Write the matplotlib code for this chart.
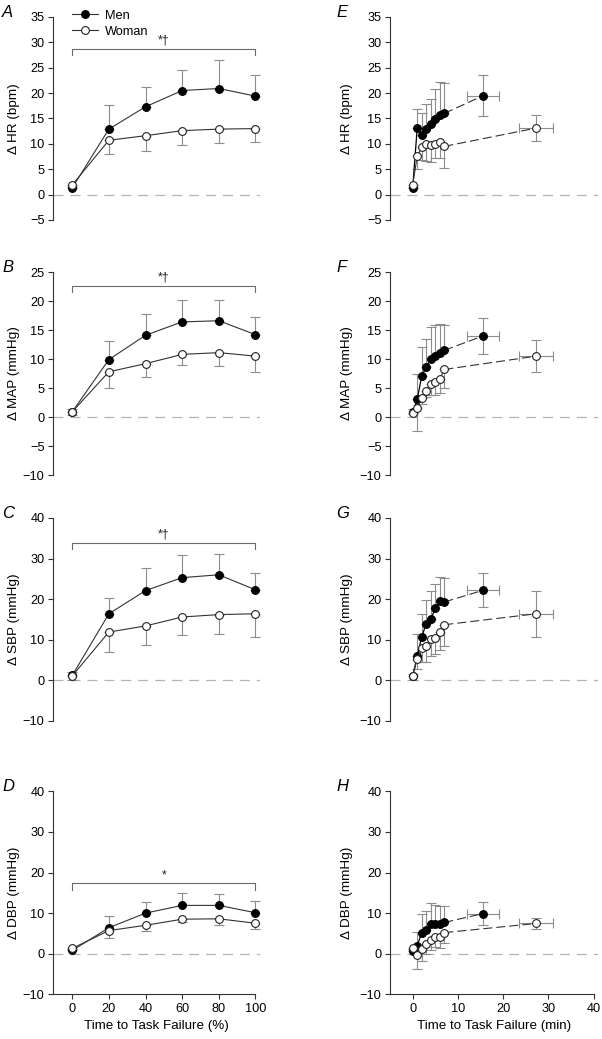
import matplotlib
matplotlib.use('Agg')
import matplotlib.pyplot as plt
import numpy as np

plt.rcParams['font.family'] = ['Liberation Sans', 'DejaVu Sans']
plt.rcParams['lines.scale_dashes'] = False

# ---------------- data: left column (% of time to task failure) -------------
pct = [0, 20, 40, 60, 80, 100]

hr_men = [1.3, 12.9, 17.3, 20.5, 20.9, 19.4]
hr_men_sd = [0.5, 4.8, 3.9, 4.0, 5.6, 4.1]
hr_wom = [1.9, 10.7, 11.6, 12.6, 12.9, 13.0]
hr_wom_sd = [0.5, 2.8, 3.0, 2.8, 2.8, 2.6]

map_men = [0.9, 9.9, 14.1, 16.4, 16.6, 14.2]
map_men_sd = [0.5, 3.2, 3.6, 3.7, 3.5, 3.1]
map_wom = [0.9, 7.8, 9.2, 10.8, 11.1, 10.5]
map_wom_sd = [0.5, 2.8, 2.3, 1.8, 2.3, 2.7]

sbp_men = [1.2, 16.4, 22.1, 25.3, 26.0, 22.3]
sbp_men_sd = [0.9, 4.0, 5.6, 5.6, 5.2, 4.2]
sbp_wom = [1.1, 11.9, 13.4, 15.6, 16.2, 16.4]
sbp_wom_sd = [0.9, 4.9, 4.8, 4.5, 4.7, 5.7]

dbp_men = [0.8, 6.4, 10.0, 11.9, 11.9, 10.1]
dbp_men_sd = [0.4, 3.0, 2.8, 3.0, 2.9, 2.8]
dbp_wom = [1.3, 5.7, 7.0, 8.5, 8.6, 7.5]
dbp_wom_sd = [0.4, 1.9, 1.4, 0.8, 1.5, 1.4]

sig_labels = ['*\u2020', '*\u2020', '*\u2020', '*']
sig_levels = [28.7, 22.6, 33.8, 17.3]

# ---------------- data: right column (absolute minutes) ---------------------
minutes = [0, 1, 2, 3, 4, 5, 6, 7]
men_ttf, men_ttf_sd = 15.6, 3.5
wom_ttf, wom_ttf_sd = 27.3, 3.7

e_men = [1.3, 13.2, 11.7, 12.9, 13.9, 14.9, 15.7, 16.0]
e_men_sd = [0.5, 3.7, 4.4, 4.9, 5.0, 6.0, 6.4, 5.9]
e_men_end, e_men_end_sd = 19.5, 4.1
e_wom = [1.9, 7.6, 9.3, 9.9, 9.7, 10.0, 10.4, 9.5]
e_wom_sd = [0.5, 2.5, 2.4, 3.2, 3.2, 2.7, 3.1, 4.3]
e_wom_end, e_wom_end_sd = 13.1, 2.6

f_men = [0.8, 3.05, 7.1, 8.6, 10.0, 10.5, 11.1, 11.5]
f_men_sd = [0.5, 4.4, 4.9, 4.8, 5.6, 5.3, 5.0, 4.4]
f_men_end, f_men_end_sd = 14.0, 3.1
f_wom = [0.75, 1.55, 3.3, 4.5, 5.75, 6.1, 6.6, 8.2]
f_wom_sd = [0.3, 3.9, 1.0, 1.0, 2.0, 2.3, 2.5, 3.2]
f_wom_end, f_wom_end_sd = 10.5, 2.7

g_men = [1.0, 5.9, 10.8, 13.9, 15.1, 17.7, 19.5, 19.3]
g_men_sd = [0.5, 5.5, 5.5, 6.0, 7.0, 6.0, 5.9, 5.8]
g_men_end, g_men_end_sd = 22.2, 4.25
g_wom = [1.15, 5.2, 7.9, 8.5, 10.1, 10.5, 11.9, 13.7]
g_wom_sd = [1.0, 2.5, 3.3, 3.9, 4.0, 4.0, 4.5, 5.2]
g_wom_end, g_wom_end_sd = 16.4, 5.7

h_men = [0.75, 2.0, 5.2, 5.9, 7.4, 7.3, 7.2, 7.7]
h_men_sd = [0.5, 3.4, 4.5, 4.6, 5.2, 4.6, 4.5, 4.0]
h_men_end, h_men_end_sd = 9.9, 2.9
h_wom = [1.3, -0.25, 1.1, 2.5, 3.4, 4.2, 4.0, 5.2]
h_wom_sd = [0.5, 3.5, 2.9, 2.5, 2.5, 2.5, 2.5, 2.6]
h_wom_end, h_wom_end_sd = 7.45, 1.45

ylabels = ['\u0394 HR (bpm)', '\u0394 MAP (mmHg)', '\u0394 SBP (mmHg)', '\u0394 DBP (mmHg)']
yticks_list = [np.arange(-5, 36, 5), np.arange(-10, 26, 5),
               np.arange(-10, 41, 10), np.arange(-10, 41, 10)]
left_letters = ['A', 'B', 'C', 'D']
right_letters = ['E', 'F', 'G', 'H']

# ---------------- styling ----------------
LINE = '#333333'
ERR = '#8c8c8c'
ZERO = '#b4b4b4'
SPINE = '#333333'
MS = 5.6
FS = 9.2

fig = plt.figure(figsize=(6.02, 10.39), dpi=100)
bottoms = [0.7883, 0.5428, 0.3061, 0.0430]
H = 0.1954


def style_axis(ax, yt, show_x):
    ax.set_ylim(yt[0], yt[-1])
    ax.set_yticks(yt)
    ax.set_yticklabels([str(v).replace('-', '\u2212') for v in yt])
    for s in ['top', 'right']:
        ax.spines[s].set_visible(False)
    ax.spines['left'].set_color(SPINE)
    ax.spines['left'].set_linewidth(0.8)
    ax.tick_params(axis='both', direction='out', length=3.6, width=0.8,
                   color=SPINE, labelsize=FS, pad=2.5)
    if not show_x:
        ax.spines['bottom'].set_visible(False)
        ax.tick_params(axis='x', bottom=False, labelbottom=False)
    else:
        ax.spines['bottom'].set_color(SPINE)
        ax.spines['bottom'].set_linewidth(0.8)


def zero_line(ax):
    ax.axhline(0, color=ZERO, lw=0.9, ls=(0, (7.2, 5.0)), zorder=0)


left_data = [(hr_men, hr_men_sd, hr_wom, hr_wom_sd),
             (map_men, map_men_sd, map_wom, map_wom_sd),
             (sbp_men, sbp_men_sd, sbp_wom, sbp_wom_sd),
             (dbp_men, dbp_men_sd, dbp_wom, dbp_wom_sd)]

for i, (m, msd, w, wsd) in enumerate(left_data):
    ax = fig.add_axes([0.088, bottoms[i], 0.344, H])
    ax.set_xlim(-10.5, 102.5)
    zero_line(ax)
    z = [0] * len(pct)
    ax.errorbar(pct, m, yerr=[z, msd], fmt='none', ecolor=ERR,
                elinewidth=0.8, capsize=3.5, capthick=0.8, zorder=1)
    ax.errorbar(pct, w, yerr=[wsd, z], fmt='none', ecolor=ERR,
                elinewidth=0.8, capsize=3.5, capthick=0.8, zorder=1)
    ax.plot(pct, m, '-o', color=LINE, lw=0.8, mfc='black', mec='black',
            ms=MS, mew=0.8, zorder=3, label='Men')
    ax.plot(pct, w, '-o', color=LINE, lw=0.8, mfc='white', mec='#222222',
            ms=MS, mew=0.8, zorder=4, label='Woman')
    # significance bracket
    yt = yticks_list[i]
    tick = (yt[-1] - yt[0]) * 0.03
    lvl = sig_levels[i]
    ax.plot([pct[0], pct[0], pct[-1], pct[-1]], [lvl - tick, lvl, lvl, lvl - tick],
            color='#6a6a6a', lw=0.8, zorder=2)
    ax.text(50, lvl + tick * 0.4, sig_labels[i], ha='center', va='bottom',
            fontsize=FS - 0.4, color='#222222')
    style_axis(ax, yt, i == 3)
    if i == 3:
        ax.set_xticks(pct)
        ax.spines['bottom'].set_bounds(-10.5, 100)
        ax.set_xlabel('Time to Task Failure (%)', fontsize=FS + 0.4, labelpad=4)
    ax.set_ylabel(ylabels[i], fontsize=FS + 0.5)
    ax.yaxis.set_label_coords(-0.16, 0.5)
    ax.text(-0.245, 1.0, left_letters[i], transform=ax.transAxes, fontsize=12,
            style='italic', ha='left', va='baseline')
    if i == 0:
        ax.legend(loc='upper left', bbox_to_anchor=(0.09, 1.035), frameon=False,
                  fontsize=FS, handlelength=2.1, handletextpad=0.5,
                  labelspacing=0.3, borderpad=0, borderaxespad=0)

right_data = [(e_men, e_men_sd, e_men_end, e_men_end_sd, e_wom, e_wom_sd, e_wom_end, e_wom_end_sd),
              (f_men, f_men_sd, f_men_end, f_men_end_sd, f_wom, f_wom_sd, f_wom_end, f_wom_end_sd),
              (g_men, g_men_sd, g_men_end, g_men_end_sd, g_wom, g_wom_sd, g_wom_end, g_wom_end_sd),
              (h_men, h_men_sd, h_men_end, h_men_end_sd, h_wom, h_wom_sd, h_wom_end, h_wom_end_sd)]

for i, (m, msd, me, mesd, w, wsd, we, wesd) in enumerate(right_data):
    ax = fig.add_axes([0.648, bottoms[i], 0.3455, H])
    ax.set_xlim(-5, 41)
    zero_line(ax)
    z = [0] * len(minutes)
    ekw = dict(fmt='none', ecolor=ERR, elinewidth=0.8, capsize=3.5, capthick=0.8, zorder=1)
    ax.errorbar(minutes, m, yerr=[z, msd], **ekw)
    ax.errorbar(minutes, w, yerr=[wsd, z], **ekw)
    ax.errorbar([men_ttf], [me], xerr=[men_ttf_sd], yerr=[mesd], **ekw)
    ax.errorbar([wom_ttf], [we], xerr=[wom_ttf_sd], yerr=[wesd], **ekw)
    # men
    ax.plot([minutes[-1], men_ttf], [m[-1], me], color=LINE, lw=0.8,
            ls=(0, (6.5, 2.9)), zorder=2)
    ax.plot(minutes, m, '-', color='black', lw=0.9, zorder=2)
    ax.plot(minutes + [men_ttf], m + [me], 'o', mfc='black', mec='black',
            ms=MS, mew=0.8, zorder=3)
    # women
    ax.plot([minutes[-1], wom_ttf], [w[-1], we], color=LINE, lw=0.8,
            ls=(0, (6.5, 2.9)), zorder=4)
    ax.plot(minutes, w, '-', color=LINE, lw=0.8, zorder=4)
    ax.plot(minutes + [wom_ttf], w + [we], 'o', mfc='white', mec='#222222',
            ms=MS, mew=0.8, zorder=5)
    style_axis(ax, yticks_list[i], i == 3)
    if i == 3:
        ax.set_xticks([0, 10, 20, 30, 40])
        ax.spines['bottom'].set_bounds(-5, 40)
        ax.set_xlabel('Time to Task Failure (min)', fontsize=FS + 0.4, labelpad=4)
    ax.set_ylabel(ylabels[i], fontsize=FS + 0.5)
    ax.yaxis.set_label_coords(-0.18, 0.5)
    ax.text(-0.26, 1.0, right_letters[i], transform=ax.transAxes, fontsize=12,
            style='italic', ha='left', va='baseline')

fig.savefig('out.png', dpi=100)
